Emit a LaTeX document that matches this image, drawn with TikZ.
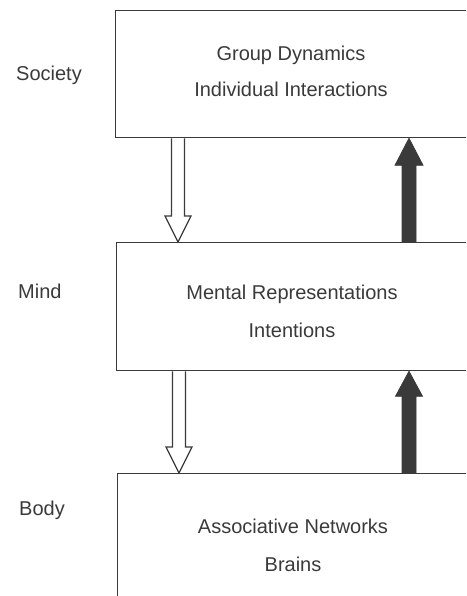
\documentclass[tikz,border=0pt]{standalone}
\usepackage{fontspec}
\setmainfont{Liberation Sans}
\usetikzlibrary{calc}
\definecolor{ink}{HTML}{3A3A3A}
\begin{document}
\begin{tikzpicture}[x=1pt,y=-1pt,
  box/.style={draw=ink,line width=1.3pt,rectangle,inner sep=0pt,anchor=north west},
  txt/.style={font=\fontsize{20}{24}\selectfont,text=ink,anchor=base,inner sep=0pt},
  side/.style={txt,anchor=base west},
  hollowarrow/.style={draw=ink,line width=1.2pt,fill=white,line join=miter},
  solidarrow/.style={draw=ink,fill=ink,line width=0.8pt,line join=miter}]
\useasboundingbox (0,0) rectangle (466,596);
\clip (0,0) rectangle (466,596);
% boxes
\node[box,minimum width=360pt,minimum height=127pt] (b1) at (115,10) {};
\node[box,minimum width=360pt,minimum height=128pt] (b2) at (116,242) {};
\node[box,minimum width=360pt,minimum height=160pt] (b3) at (117,473) {};
% box texts
\node[txt] (t1a) at (291,61) {Group Dynamics};
\node[txt] (t1b) at (291,97) {Individual Interactions};
\node[txt] (t2a) at (292,299) {Mental Representations};
\node[txt] (t2b) at (292,337) {Intentions};
\node[txt] (t3a) at (293,533) {Associative Networks};
\node[txt] (t3b) at (293,571) {Brains};
% side labels
\node[side] (ls) at (16,81) {Society};
\node[side] (lm) at (18,298) {Mind};
\node[side] (lb) at (19,515) {Body};
% anchor points of connectors
\coordinate (h1s) at ($(b1.south west)+(63,0)$);
\coordinate (h1e) at ($(b2.north west)+(62,0)$);
\coordinate (h2s) at ($(b2.south west)+(63,0)$);
\coordinate (h2e) at ($(b3.north west)+(62,0)$);
\coordinate (f1s) at ($(b2.north west)+(293,0)$);
\coordinate (f1e) at ($(b1.south west)+(294,0)$);
\coordinate (f2s) at ($(b3.north west)+(292,0)$);
\coordinate (f2e) at ($(b2.south west)+(293,0)$);
% hollow downward arrows
\draw[hollowarrow] let \p1=(h1s), \p2=(h1e) in
  (\x1-6.5pt,\y1) -- (\x1-6.5pt,\y2+26pt) -- (\x1-13pt,\y2+26pt) -- (h1e)
  -- (\x1+13pt,\y2+26pt) -- (\x1+6.5pt,\y2+26pt) -- (\x1+6.5pt,\y1);
\draw[hollowarrow] let \p1=(h2s), \p2=(h2e) in
  (\x1-6.5pt,\y1) -- (\x1-6.5pt,\y2+26pt) -- (\x1-13pt,\y2+26pt) -- (h2e)
  -- (\x1+13pt,\y2+26pt) -- (\x1+6.5pt,\y2+26pt) -- (\x1+6.5pt,\y1);
% solid upward arrows
\draw[solidarrow] let \p1=(f1s), \p2=(f1e) in
  (\x1-7pt,\y1) -- (\x1-7pt,\y2-27pt) -- (\x1-14pt,\y2-27pt) -- (f1e)
  -- (\x1+14pt,\y2-27pt) -- (\x1+7pt,\y2-27pt) -- (\x1+7pt,\y1) -- cycle;
\draw[solidarrow] let \p1=(f2s), \p2=(f2e) in
  (\x1-7pt,\y1) -- (\x1-7pt,\y2-25pt) -- (\x1-13.5pt,\y2-25pt) -- (f2e)
  -- (\x1+13.5pt,\y2-25pt) -- (\x1+7pt,\y2-25pt) -- (\x1+7pt,\y1) -- cycle;
\end{tikzpicture}
\end{document}
